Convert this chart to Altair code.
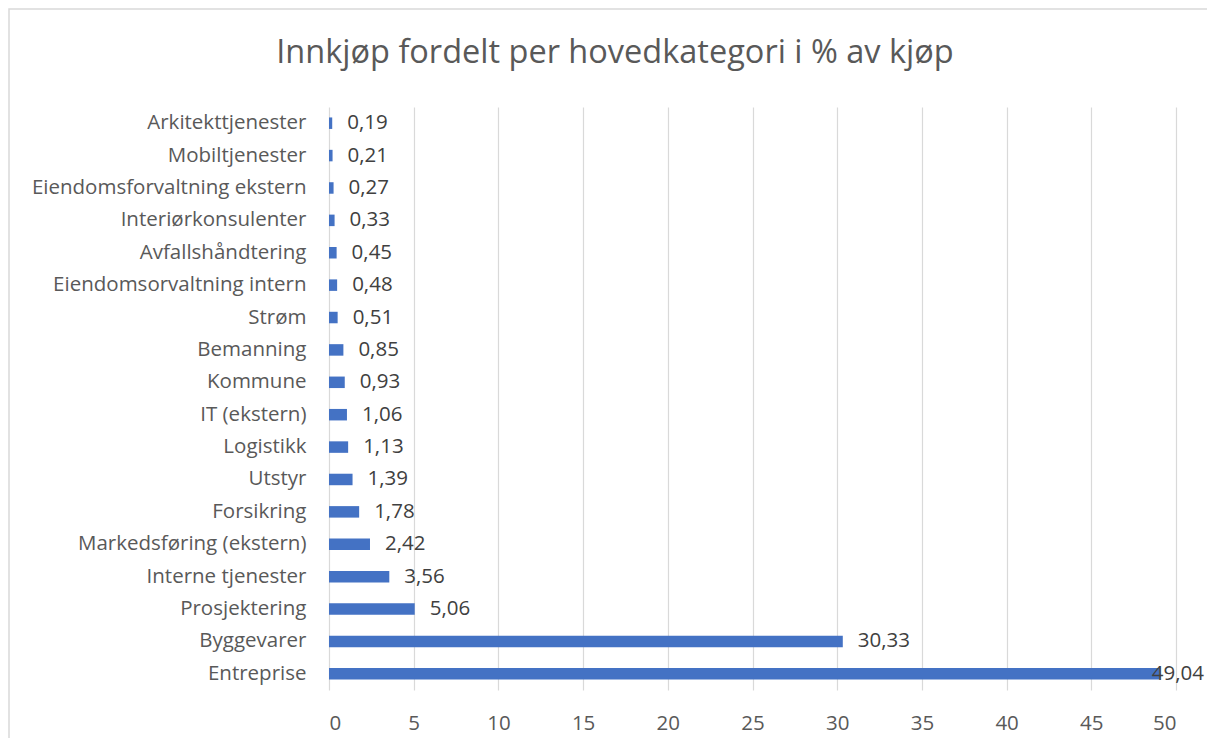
import altair as alt
import pandas as pd

categories = [
    "Arkitekttjenester", "Mobiltjenester", "Eiendomsforvaltning ekstern",
    "Interiørkonsulenter", "Avfallshåndtering ", "Eiendomsorvaltning intern",
    "Strøm", "Bemanning ", "Kommune", "IT (ekstern)", "Logistikk", "Utstyr",
    "Forsikring", "Markedsføring (ekstern)", "Interne tjenester ",
    "Prosjektering", "Byggevarer", "Entreprise",
]
values = [0.19, 0.21, 0.27, 0.33, 0.45, 0.48, 0.51, 0.85, 0.93, 1.06,
          1.13, 1.39, 1.78, 2.42, 3.56, 5.06, 30.33, 49.04]
x_ticks = [0, 5, 10, 15, 20, 25, 30, 35, 40, 45, 50]
title_text = "Innkjøp fordelt per hovedkategori i % av kjøp"

df = pd.DataFrame({"kategori": categories, "verdi": values})

FONT = "Open Sans"
FS = 20.5
W, H = 847, 583
PL, PT = 321, 99

y_enc = alt.Y("kategori:N", sort=categories, title=None,
              scale=alt.Scale(paddingInner=0, paddingOuter=0),
              axis=alt.Axis(domain=False, ticks=False, grid=False,
                            labelFont=FONT, labelFontSize=FS,
                            labelColor="#595959", labelPadding=23,
                            labelLimit=400))
x_enc = alt.X("verdi:Q", title=None,
              scale=alt.Scale(domain=[0, 50], nice=False),
              axis=alt.Axis(values=x_ticks, domain=False, ticks=False,
                            grid=True, gridColor="#D9D9D9", gridWidth=1.2,
                            labelFont=FONT, labelFontSize=FS,
                            labelColor="#595959", labelPadding=23))

base = alt.Chart(df).transform_calculate(
    lab="replace(format(datum.verdi, '.2f'), '.', ',')"
)

bars = base.mark_bar(size=11.5, color="#4472C4").encode(x=x_enc, y=y_enc)

labels_small = base.transform_filter("datum.verdi < 45").mark_text(
    align="left", baseline="middle", dx=15, font=FONT, fontSize=FS,
    color="#404040"
).encode(x="verdi:Q", y=alt.Y("kategori:N", sort=categories), text="lab:N")

labels_big = base.transform_filter("datum.verdi >= 45").mark_text(
    align="left", baseline="middle", dx=-8, font=FONT, fontSize=FS,
    color="#404040"
).encode(x="verdi:Q", y=alt.Y("kategori:N", sort=categories), text="lab:N")

title = alt.Chart(alt.Data(values=[{"t": title_text}])).mark_text(
    align="center", baseline="alphabetic", font=FONT, fontSize=32.5,
    color="#595959"
).encode(x=alt.value(615 - 8 - PL), y=alt.value(63 - 8 - PT), text="t:N")

border = alt.Chart(alt.Data(values=[{"a": 1}])).mark_rect(
    fill=None, stroke="#D9D9D9", strokeWidth=1.5
).encode(x=alt.value(9 - 8 - PL), x2=alt.value(1300),
         y=alt.value(1 - PT), y2=alt.value(900))

chart = alt.layer(border, bars, labels_small, labels_big, title).properties(
    width=W, height=H,
    autosize=alt.AutoSizeParams(type="none"),
    padding={"left": PL, "top": PT, "right": 1199 - PL - W, "bottom": 730 - PT - H},
).configure_view(stroke=None)

chart.save("out.html", embed_options={"renderer": "svg", "actions": False})
